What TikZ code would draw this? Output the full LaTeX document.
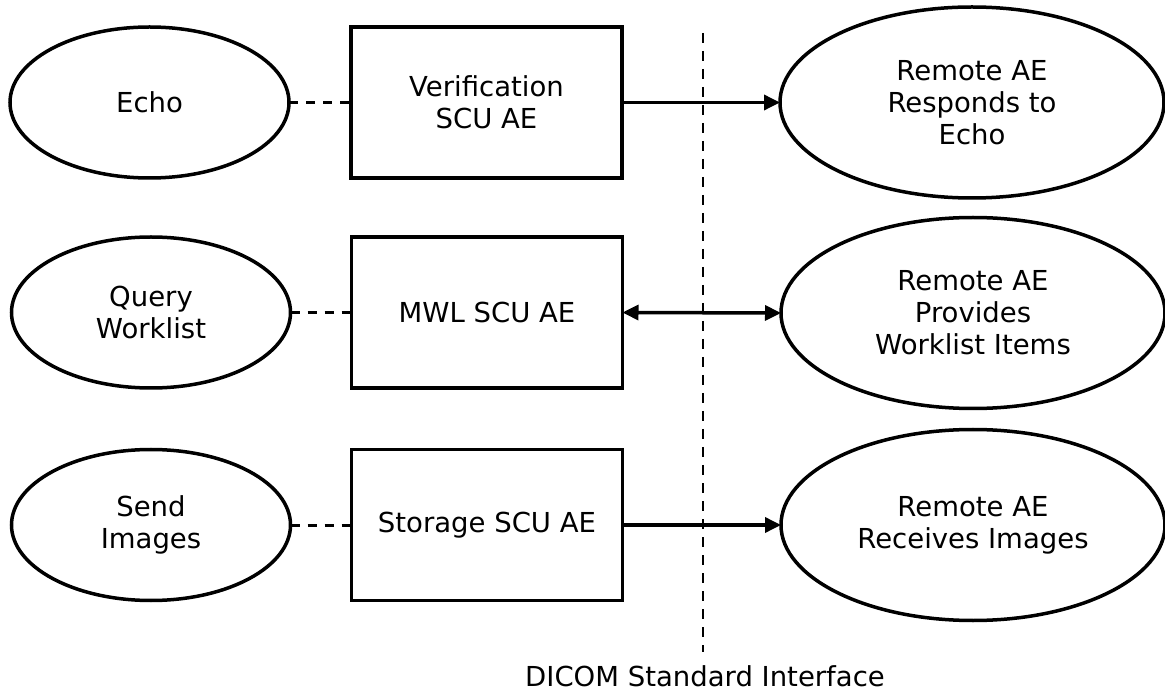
\documentclass[tikz,border=0pt]{standalone}
\usepackage{fontspec}
\setmainfont{DejaVu Sans}
\usetikzlibrary{shapes.geometric,arrows.meta}
\begin{document}
\begin{tikzpicture}[x=1pt,y=-1pt,
  every node/.style={font=\fontsize{27.5}{32}\selectfont, align=center, inner sep=0pt, outer sep=0pt},
  task/.style={ellipse, draw, line width=3.5pt, minimum width=279pt, minimum height=151pt},
  aebox/.style={rectangle, draw, line width=3.5pt, minimum width=271pt, minimum height=151pt},
  remote/.style={ellipse, draw, line width=3.5pt, minimum width=384pt, minimum height=191pt},
  link/.style={line width=3pt, dash pattern=on 9pt off 8pt},
  border/.style={line width=2.5pt, dash pattern=on 10pt off 8pt},
  tipx/.tip={Triangle[length=16pt,width=15pt]},
  flow/.style={line width=3.5pt, -tipx},
  dflow/.style={line width=3.5pt, tipx-tipx},
]
\useasboundingbox (0,0) rectangle (1165,692);

\coordinate (itop) at (703,33);
\coordinate (ibot) at (703,652);
\draw[border] (itop) -- (ibot);
\node (ilabel) at (705,676) {DICOM Standard Interface};

\node[task] (echo) at (149.5,102.5) {Echo};
\node[task] (query) at (151,312.5) {Query\\Worklist};
\node[task] (send) at (151,525) {Send\\Images};

\node[aebox] (ver) at (486.5,102.5) {Verification\\SCU AE};
\node[aebox] (mwl) at (487,312.5) {MWL SCU AE};
\node[aebox] (sto) at (487,525) {Storage SCU AE};

\node[remote] (r1) at (972,102.5) {Remote AE\\Responds to\\Echo};
\node[remote] (r2) at (973,313) {Remote AE\\Provides\\Worklist Items};
\node[remote] (r3) at (973,525) {Remote AE\\Receives Images};

\draw[link] (echo.east) -- (ver.west);
\draw[link] (query.east) -- (mwl.west);
\draw[link] (send.east) -- (sto.west);

\draw[flow] (ver.east) -- (r1.west);
\draw[dflow] (mwl.east) -- (r2.west);
\draw[flow] (sto.east) -- (r3.west);
\end{tikzpicture}
\end{document}
